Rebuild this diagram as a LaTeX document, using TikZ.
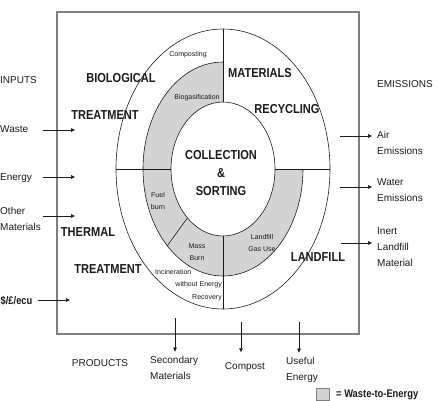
\documentclass[tikz,border=0pt]{standalone}
\usepackage{fontspec}
\setmainfont{Liberation Sans}
\newfontfamily\narrowfont[FakeStretch=0.85]{Liberation Sans}
\usepackage{tikz}
\usetikzlibrary{arrows.meta,positioning,shapes.geometric,calc}
\definecolor{ringgray}{HTML}{D3D3D3}
\definecolor{framegray}{HTML}{7F7F7F}
\definecolor{inkblack}{HTML}{1A1A1A}

\begin{document}
\begin{tikzpicture}[
  x=1pt,y=1pt,
  every node/.style={font=\fontsize{10}{16}\selectfont,inner sep=0pt,color=inkblack},
  zone/.style={font=\narrowfont\bfseries\fontsize{13}{18}\selectfont},
  method/.style={font=\fontsize{7}{12.5}\selectfont,align=center},
  flow/.style={align=left},
  boldflow/.style={font=\narrowfont\fontsize{11}{16}\selectfont\bfseries},
  oval/.style={ellipse,draw=inkblack,line width=0.6pt,inner sep=0pt,outer sep=0pt},
  divider/.style={draw=inkblack,line width=0.6pt},
  arrow/.style={-{Triangle[length=4pt,width=3.6pt]},line width=0.6pt,color=inkblack}
]
\useasboundingbox (0,0) rectangle (439,400);

% frame and rings
\node[draw=framegray,line width=1.6pt,minimum width=302pt,minimum height=322pt] (frame) at (208,227) {};
\node[oval,minimum width=214pt,minimum height=280pt] (outer) at (223,231) {};
\node[ellipse,inner sep=0pt,outer sep=0pt,minimum width=160pt,minimum height=214pt] (ring) at (223,231) {};
\fill[ringgray] (ring.center) -- (ring.north) arc[start angle=90,end angle=360,x radius=80pt,y radius=107pt] -- cycle;
\draw[divider] (ring.north) arc[start angle=90,end angle=360,x radius=80pt,y radius=107pt];
\node[oval,fill=white,minimum width=104pt,minimum height=134pt] (hub) at (223,231) {};

\draw[divider] (outer.north) -- (hub.north);
\draw[divider] (hub.south) -- (outer.south);
\draw[divider] (outer.west) -- (hub.west);
\draw[divider] (hub.east) -- (outer.east);
\draw[divider] (hub.234) -- (ring.234);

% sectors
\node[zone] (bio) at (121,322) {BIOLOGICAL};
\node[zone] (biotreat) at (105,285) {TREATMENT};
\node[zone] (mat) at (260,326.5) {MATERIALS};
\node[zone] (recyc) at (287,290.5) {RECYCLING};
\node[zone,align=center] (hubtext) at (221,227) {COLLECTION\\\&\\SORTING};
\node[zone] (thermal) at (88,168) {THERMAL};
\node[zone] (thermtreat) at (108,131) {TREATMENT};
\node[zone] (landfill) at (318,143) {LANDFILL};

\node[method] (composting) at (188,345) {Composting};
\node[method] (biogas) at (197,302) {Biogasification};
\node[method] (fuel) at (158,199) {Fuel\\burn};
\node[method] (mass) at (197,148) {Mass\\Burn};
\node[method] (gasuse) at (262,157) {Landfill\\Gas Use};
\node[method,anchor=west] (incin) at (155,128) {Incineration};
\node[method,anchor=east] (incinwo) at (222,115) {without Energy};
\node[method,anchor=east] (incinrec) at (222,102) {Recovery};

% inputs
\node[anchor=west] (inputs) at (0,320) {INPUTS};
\node[flow,anchor=west,text width=43pt] (waste) at (0,271) {Waste};
\node[flow,anchor=west,text width=43pt] (energy) at (0,222) {Energy};
\node[flow,anchor=west,text width=43pt] (other) at (0,181.5) {Other\\Materials};
\node[boldflow,anchor=west] (money) at (0.5,99) {\$/£/ecu};
\coordinate (waste-in) at (75,270);
\coordinate (energy-in) at (75,223);
\coordinate (other-in) at (75,184);
\coordinate (money-in) at (70,100);
\draw[arrow] (waste-in -| waste.east) -- (waste-in);
\draw[arrow] (energy-in -| energy.east) -- (energy-in);
\draw[arrow] (other-in -| other.east) -- (other-in);
\draw[arrow,shorten <=5pt] (money-in -| money.east) -- (money-in);

% emissions
\node[anchor=west] (emissions) at (377,316) {EMISSIONS};
\node[flow,anchor=west] (air) at (377,257.5) {Air\\Emissions};
\node[flow,anchor=west] (water) at (377,210) {Water\\Emissions};
\node[flow,anchor=west] (inert) at (377,152.5) {Inert\\Landfill\\Material};
\coordinate (air-out) at (340,264);
\coordinate (water-out) at (340,213);
\coordinate (inert-out) at (341,157);
\draw[arrow,shorten >=5pt] (air-out) -- (air-out -| air.west);
\draw[arrow,shorten >=5pt] (water-out) -- (water-out -| water.west);
\draw[arrow,shorten >=5pt] (inert-out) -- (inert-out -| inert.west);

% products
\node (products) at (100,37) {PRODUCTS};
\node[flow,anchor=west] (secmat) at (150,32.5) {Secondary\\Materials};
\node (compost) at (245,33) {Compost};
\node[flow,anchor=west] (useful) at (286,30.5) {Useful\\Energy};
\coordinate (sec-out) at (175,82);
\coordinate (compost-out) at (241,78);
\coordinate (useful-out) at (299,78);
\draw[arrow] (sec-out) -- ([yshift=4pt]sec-out |- secmat.north);
\draw[arrow] (compost-out) -- ([yshift=10pt]compost-out |- compost.north);
\draw[arrow] (useful-out) -- ([yshift=4pt]useful-out |- useful.north);

% key
\node[draw=gray,fill=ringgray,line width=0.8pt,minimum width=13pt,minimum height=12pt,anchor=north west] (keybox) at (316,12) {};
\node[boldflow,anchor=base west] (keytext) at (336,3) {= Waste-to-Energy};
\end{tikzpicture}
\end{document}
